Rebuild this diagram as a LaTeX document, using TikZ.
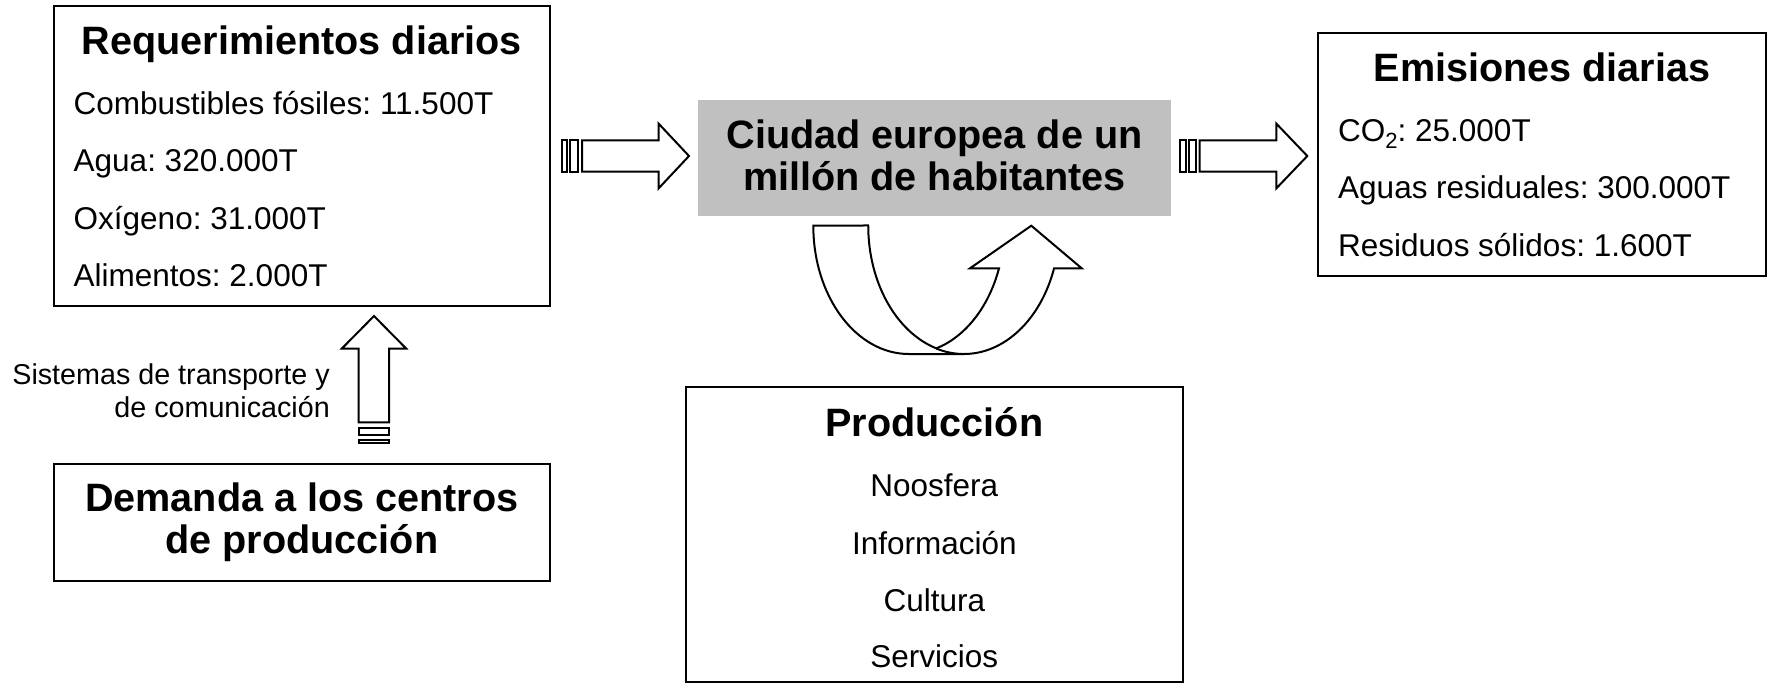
\documentclass[tikz,border=0pt]{standalone}
\usepackage{fontspec}
\setmainfont{Liberation Sans}
\definecolor{cityfill}{RGB}{192,192,192}
\newcommand{\HeadFont}{\fontsize{39.6}{42}\selectfont\bfseries}
\newcommand{\BodyFont}{\fontsize{31.5}{36}\selectfont}
\newcommand{\SideFont}{\fontsize{28.7}{33}\selectfont}
\frenchspacing
\begin{document}
\frenchspacing
\begin{tikzpicture}[x=1pt,y=1pt,
  box/.style={draw=black, line width=2pt, fill=white, rectangle, inner sep=0pt, outer sep=0pt},
  shapeline/.style={draw=black, line width=2pt, fill=white, line join=miter},
  headtxt/.style={font=\HeadFont, inner sep=0pt, anchor=base},
  bodytxt/.style={font=\BodyFont, inner sep=0pt, anchor=base west},
  centertxt/.style={font=\BodyFont, inner sep=0pt, anchor=base},
  sidetxt/.style={font=\SideFont, inner sep=0pt, anchor=base east}]
\useasboundingbox (0,0) rectangle (1767,-683);

% boxes
\node[box, anchor=north west, minimum width=496.4pt, minimum height=300pt] (req) at (53.6,-6) {};
\node[box, anchor=north west, minimum width=447.5pt, minimum height=242.7pt] (emi) at (1318,-33.3) {};
\node[fill=cityfill, anchor=north west, minimum width=473pt, minimum height=115.7pt, inner sep=0pt, outer sep=0pt] (city) at (698,-100) {};
\node[box, anchor=north west, minimum width=496.7pt, minimum height=116.7pt] (dem) at (53.6,-464) {};
\node[box, anchor=north west, minimum width=496.9pt, minimum height=294.2pt] (prod) at (685.8,-387.3) {};

% texts of Requerimientos
\node[headtxt] (reqh) at (301.8,-54) {Requerimientos diarios};
\node[bodytxt] (req1) at (73.5,-114.3) {Combustibles fósiles: 11.500T};
\node[bodytxt] (req2) at (73.5,-171) {Agua: 320.000T};
\node[bodytxt] (req3) at (73.5,-229.3) {Oxígeno: 31.000T};
\node[bodytxt] (req4) at (73.5,-286.7) {Alimentos: 2.000T};

% texts of Emisiones
\node[headtxt] (emih) at (1542,-81) {Emisiones diarias};
\node[bodytxt] (emi1) at (1338,-141.7) {CO\raisebox{-7pt}{\fontsize{22}{22}\selectfont 2}: 25.000T};
\node[bodytxt] (emi2) at (1338,-198.3) {Aguas residuales: 300.000T};
\node[bodytxt] (emi3) at (1338,-256) {Residuos sólidos: 1.600T};

% city
\node[headtxt] (city1) at (934.5,-148.3) {Ciudad europea de un};
\node[headtxt] (city2) at (934.5,-190) {millón de habitantes};

% demanda
\node[headtxt] (dem1) at (301.8,-511.7) {Demanda a los centros};
\node[headtxt] (dem2) at (301.8,-553) {de producción};

% produccion
\node[headtxt] (prodh) at (934.3,-436.7) {Producción};
\node[centertxt] (prod1) at (934.3,-496) {Noosfera};
\node[centertxt] (prod2) at (934.3,-554.3) {Información};
\node[centertxt] (prod3) at (934.3,-611) {Cultura};
\node[centertxt] (prod4) at (934.3,-667.7) {Servicios};

% side label
\node[sidetxt] (sis1) at (330,-384) {Sistemas de transporte y};
\node[sidetxt] (sis2) at (330,-417.3) {de comunicación};

% striped arrow 1 (Requerimientos -> city)
\draw[shapeline] (562,-140.3) rectangle (567,-171.7);
\draw[shapeline] (570,-140.3) rectangle (578,-171.7);
\draw[shapeline] (582,-140.3) -- (658.7,-140.3) -- (658.7,-123.7) -- (689,-156)
  -- (658.7,-188.3) -- (658.7,-171.7) -- (582,-171.7) -- cycle;

% striped arrow 2 (city -> Emisiones)
\draw[shapeline] (1180.4,-140.3) rectangle (1186.1,-171.7);
\draw[shapeline] (1189.2,-140.3) rectangle (1195.6,-171.7);
\draw[shapeline] (1199.6,-140.3) -- (1276.4,-140.3) -- (1276.4,-123.7) -- (1307.3,-156)
  -- (1276.4,-188.3) -- (1276.4,-171.7) -- (1199.6,-171.7) -- cycle;

% vertical striped arrow (Demanda -> Requerimientos)
\draw[shapeline] (358.7,-428.3) rectangle (389,-434.7);
\draw[shapeline] (358.7,-440.3) rectangle (389,-443.3);
\draw[shapeline] (358.7,-422.3) -- (358.7,-348.7) -- (341.7,-348.7) -- (374,-316)
  -- (406.3,-348.7) -- (389,-348.7) -- (389,-422.3) -- cycle;

% curved up arrow under the city
\draw[shapeline] (813.3,-225.7)
  arc[start angle=180, end angle=270, x radius=95.6, y radius=128.3]
  -- (963.9,-354)
  arc[start angle=270, end angle=340.6, x radius=95.6, y radius=128.3]
  -- (1081.7,-268.3) -- (1031.3,-225.7) -- (970,-268.3) -- (999,-268.3)
  arc[start angle=340.5, end angle=286.7, x radius=95.6, y radius=128.3]
  arc[start angle=253.3, end angle=180, x radius=95.6, y radius=128.3]
  -- cycle;
\draw[line width=2pt] (936.4,-348.6)
  arc[start angle=253.3, end angle=270, x radius=95.6, y radius=128.3];
\end{tikzpicture}
\end{document}
